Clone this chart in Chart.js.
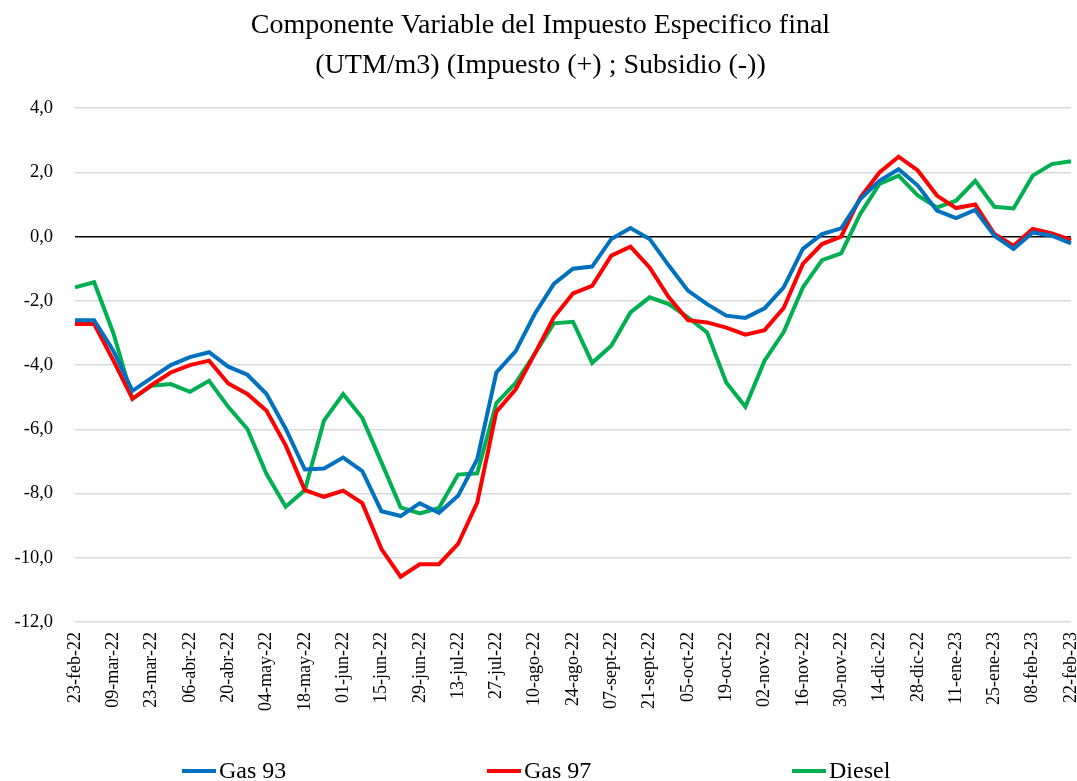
<!doctype html>
<html lang="es">
<head>
<meta charset="utf-8">
<title>Componente Variable del Impuesto Especifico final</title>
<style>
  * { margin: 0; padding: 0; }
  body { background: #fff; }
  .chartBox { width: 1077px; height: 781px; }
</style>
</head>
<body>
<div class="chartBox">
  <canvas id="myChart"></canvas>
</div>

<script src="https://cdn.jsdelivr.net/npm/chart.js"></script>
<script>
  const fechas = [
    '23-feb-22', '02-mar-22', '09-mar-22', '16-mar-22', '23-mar-22', '30-mar-22', '06-abr-22', '13-abr-22',
    '20-abr-22', '27-abr-22', '04-may-22', '11-may-22', '18-may-22', '25-may-22', '01-jun-22', '08-jun-22',
    '15-jun-22', '22-jun-22', '29-jun-22', '06-jul-22', '13-jul-22', '20-jul-22', '27-jul-22', '03-ago-22',
    '10-ago-22', '17-ago-22', '24-ago-22', '31-ago-22', '07-sept-22', '14-sept-22', '21-sept-22', '28-sept-22',
    '05-oct-22', '12-oct-22', '19-oct-22', '26-oct-22', '02-nov-22', '09-nov-22', '16-nov-22', '23-nov-22',
    '30-nov-22', '07-dic-22', '14-dic-22', '21-dic-22', '28-dic-22', '04-ene-23', '11-ene-23', '18-ene-23',
    '25-ene-23', '01-feb-23', '08-feb-23', '15-feb-23', '22-feb-23'
  ]

  const gas93 = [
    -2.6, -2.6, -3.55, -4.8, -4.4, -4.0, -3.75, -3.6, -4.05, -4.3, -4.9, -5.98, -7.25, -7.22,
    -6.88, -7.3, -8.55, -8.7, -8.3, -8.6, -8.07, -6.93, -4.23, -3.57, -2.41, -1.47, -1.0, -0.93,
    -0.07, 0.27, -0.07, -0.9, -1.68, -2.1, -2.46, -2.53, -2.23, -1.58, -0.38, 0.08, 0.26, 1.17,
    1.74, 2.1, 1.59, 0.81, 0.58, 0.83, 0.03, -0.38, 0.13, 0.03, -0.21
  ]
  const gas97 = [
    -2.72, -2.72, -3.85, -5.05, -4.62, -4.23, -4.0, -3.86, -4.57, -4.9, -5.42, -6.5, -7.89, -8.1,
    -7.91, -8.3, -9.73, -10.59, -10.2, -10.2, -9.57, -8.28, -5.45, -4.76, -3.65, -2.51, -1.77, -1.53,
    -0.59, -0.31, -0.96, -1.89, -2.6, -2.67, -2.83, -3.05, -2.91, -2.22, -0.85, -0.23, 0.0, 1.22,
    2.0, 2.49, 2.06, 1.28, 0.89, 1.0, 0.08, -0.28, 0.24, 0.1, -0.1
  ]
  const diesel = [
    -1.58, -1.42, -3.0, -5.05, -4.64, -4.59, -4.83, -4.49, -5.3, -5.99, -7.39, -8.41, -7.89, -5.73,
    -4.9, -5.65, -7.03, -8.43, -8.62, -8.45, -7.41, -7.37, -5.18, -4.56, -3.65, -2.7, -2.65, -3.93,
    -3.4, -2.36, -1.89, -2.1, -2.51, -2.98, -4.54, -5.3, -3.86, -2.97, -1.58, -0.73, -0.52, 0.71,
    1.64, 1.9, 1.28, 0.91, 1.12, 1.74, 0.93, 0.88, 1.9, 2.26, 2.35
  ]

  const serif = "'Liberation Serif', 'Times New Roman', serif"

  // legend drawn by hand so the items can sit far apart on one row
  const bottomLegend = {
    id: 'bottomLegend',
    afterDraw(chart) {
      const ctx = chart.ctx
      const step = 305
      const y = 771
      ctx.save()
      ctx.font = '24px ' + serif
      ctx.textBaseline = 'middle'
      ctx.textAlign = 'left'
      chart.data.datasets.forEach((ds, i) => {
        const x = 182 + i * step
        ctx.fillStyle = ds.borderColor
        ctx.fillRect(x, y - 2, 34, 4)
        ctx.fillStyle = '#000'
        ctx.fillText(ds.label, x + 37, y + 1)
      })
      ctx.restore()
    }
  }

  // data block
  const data = {
    labels: fechas,
    datasets: [
      { label: 'Gas 93', data: gas93, borderColor: '#0070C0', backgroundColor: '#0070C0' },
      { label: 'Gas 97', data: gas97, borderColor: '#FF0000', backgroundColor: '#FF0000' },
      { label: 'Diesel', data: diesel, borderColor: '#00B050', backgroundColor: '#00B050' }
    ]
  }

  // config block
  const config = {
    type: 'line',
    data: data,
    plugins: [bottomLegend],
    options: {
      responsive: true,
      maintainAspectRatio: false,
      animation: false,
      layout: { padding: { left: 10, right: 6, top: 5, bottom: 68 } },
      elements: {
        line: { borderWidth: 4, tension: 0 },
        point: { radius: 0 }
      },
      plugins: {
        title: {
          display: true,
          text: ['Componente Variable del Impuesto Especifico final', '(UTM/m3) (Impuesto (+) ; Subsidio (-))'],
          color: '#000',
          font: { family: serif, size: 28, weight: 'normal', lineHeight: 1.45 },
          padding: { top: 0, bottom: 22 }
        },
        legend: { display: false },
        tooltip: { enabled: false }
      },
      scales: {
        x: {
          offset: false,
          grid: { display: false },
          border: { display: false },
          afterFit: (scale) => { scale.paddingRight = 0; scale.paddingLeft = 0 },
          ticks: {
            color: '#000',
            font: { family: serif, size: 18 },
            autoSkip: false,
            maxRotation: 90,
            minRotation: 90,
            padding: 2,
            callback: function (value, index) {
              return index % 2 === 0 ? this.getLabelForValue(value) : ''
            }
          }
        },
        y: {
          min: -12,
          max: 4,
          border: { display: false },
          afterFit: (scale) => { scale.width = 65 },
          grid: {
            drawTicks: false,
            color: (ctx) => ctx.tick.value === 0 ? '#000' : '#d9d9d9',
            lineWidth: 1.5
          },
          ticks: {
            stepSize: 2,
            padding: 22,
            color: '#000',
            font: { family: serif, size: 18.5 },
            callback: (v) => v.toFixed(1).replace('.', ',')
          }
        }
      }
    }
  }

  // init render block
  const myChart = new Chart(document.getElementById('myChart'), config)
</script>
</body>
</html>
